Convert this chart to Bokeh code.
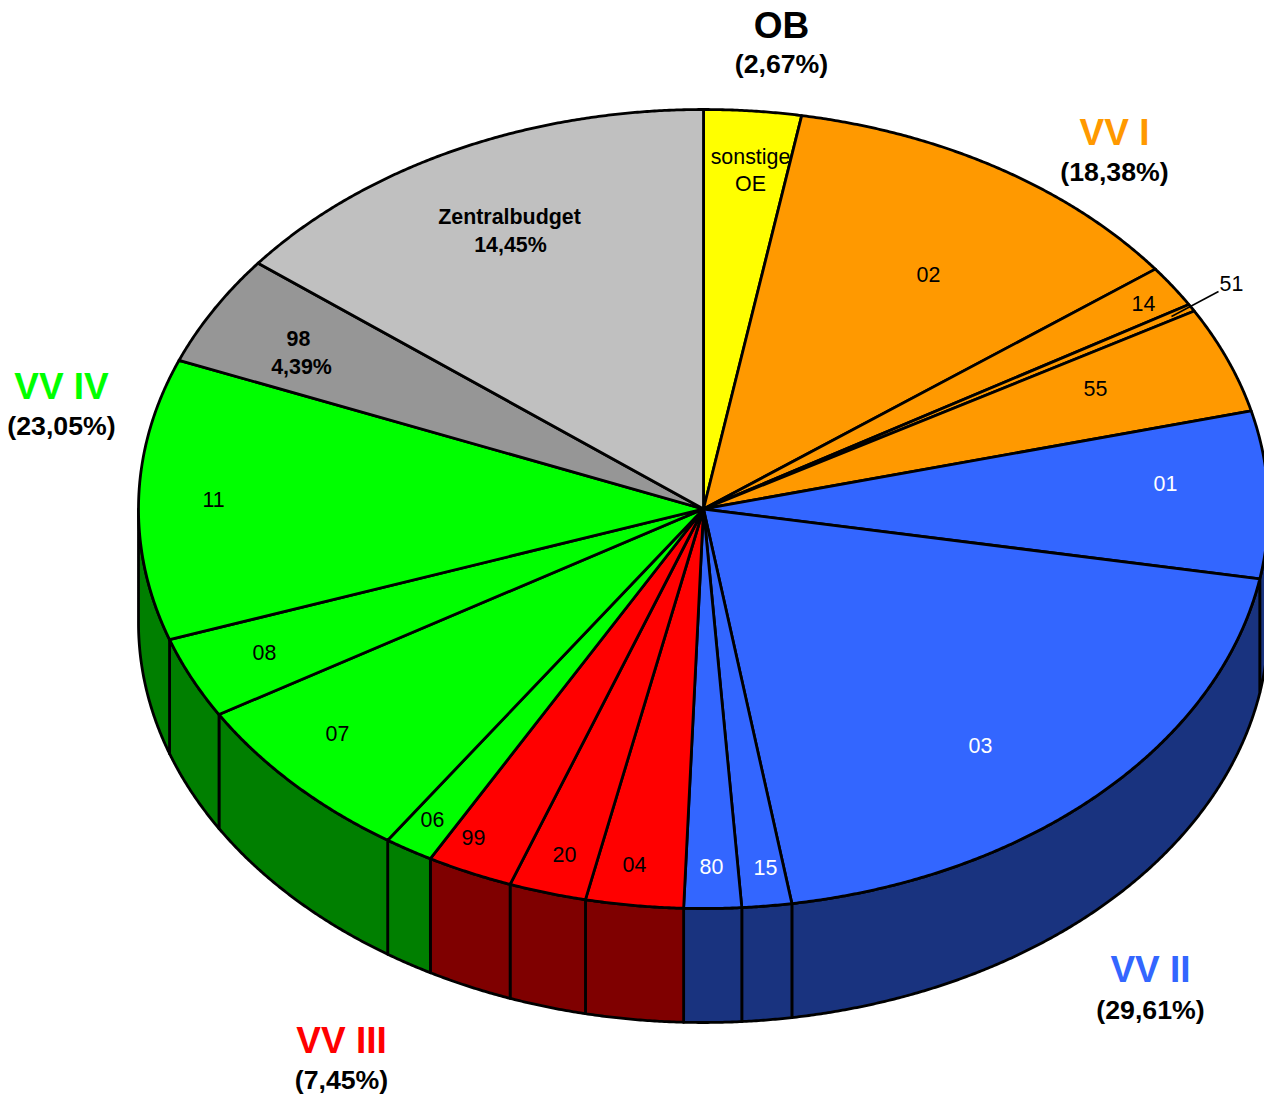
import numpy as np
from bokeh.plotting import figure
from bokeh.models import Range1d
from bokeh.core.properties import value
from bokeh.embed import file_html
from bokeh.resources import INLINE

slice_names = ["sonstige OE", "02", "14", "51", "55", "01", "03", "15", "80",
               "04", "20", "99", "06", "07", "08", "11", "98", "Zentralbudget"]
slice_values = [2.78, 11.97, 1.70, 0.30, 4.30, 6.75, 19.70, 1.42, 1.64,
                2.79, 2.21, 2.47, 1.41, 6.96, 3.30, 11.37, 4.48, 14.45]
slice_groups = ["OB", "VV I", "VV I", "VV I", "VV I", "VV II", "VV II", "VV II", "VV II",
                "VV III", "VV III", "VV III", "VV IV", "VV IV", "VV IV", "VV IV", "98", "Z"]
top_colors = {"OB": "#FFFF00", "VV I": "#FF9900", "VV II": "#3366FF", "VV III": "#FF0000",
              "VV IV": "#00FF00", "98": "#969696", "Z": "#C0C0C0"}
wall_colors = {"VV II": "#19337F", "VV III": "#7F0000", "VV IV": "#007F00",
               "VV I": "#7F4C00", "OB": "#7F7F00", "98": "#4B4B4B", "Z": "#606060"}

# pie geometry in page pixels
CX, CY, RX, RY, DEPTH = 703.0, 508.5, 565.0, 399.5, 114.0

# text annotations: text, x, y, colour, bold
small_labels = [
    ("sonstige", 750, 156, "black", False), ("OE", 750, 183, "black", False),
    ("02", 928, 274, "black", False), ("14", 1143, 303, "black", False),
    ("51", 1231, 283, "black", False), ("55", 1095, 388, "black", False),
    ("01", 1165, 483, "white", False), ("03", 980, 745, "white", False),
    ("15", 765, 867, "white", False), ("80", 711, 866, "white", False),
    ("04", 634, 864, "black", False), ("20", 564, 854, "black", False),
    ("99", 473, 837, "black", False), ("06", 432, 819, "black", False),
    ("07", 337, 733, "black", False), ("08", 264, 652, "black", False),
    ("11", 213, 499, "black", False),
    ("98", 298, 338, "black", True), ("4,39%", 301, 366, "black", True),
    ("Zentralbudget", 509, 216, "black", True), ("14,45%", 510, 244, "black", True),
]
group_titles = [
    ("OB", "(2,67%)", 781, 24.5, 63, "black"),
    ("VV I", "(18,38%)", 1114, 131.5, 171, "#FF9900"),
    ("VV II", "(29,61%)", 1150, 968.5, 1009, "#3366FF"),
    ("VV III", "(7,45%)", 341, 1039.5, 1079, "#FF0000"),
    ("VV IV", "(23,05%)", 61, 385.5, 425, "#00FF00"),
]
leader_x = [1171, 1218]
leader_y = [316, 291]

p = figure(width=1264, height=1095, output_backend="svg", toolbar_location=None,
           x_range=Range1d(0, 1264), y_range=Range1d(1095, 0),
           x_axis_location=None, y_axis_location=None, min_border=0,
           background_fill_color="white", border_fill_color="white", outline_line_color=None)
p.grid.visible = False


def rim(t0, t1):
    n = max(2, int(abs(t1 - t0) * 4) + 2)
    t = np.radians(np.linspace(t0, t1, n))
    return CX + RX * np.sin(t), CY - RY * np.cos(t)


edges = np.concatenate([[0], np.cumsum(slice_values)]) * 3.6

wall_xs, wall_ys, wall_fill = [], [], []
top_xs, top_ys, top_fill = [], [], []
for i, g in enumerate(slice_groups):
    a, b = edges[i], edges[i + 1]
    x, y = rim(a, b)
    top_xs.append(np.concatenate([[CX], x]).tolist())
    top_ys.append(np.concatenate([[CY], y]).tolist())
    top_fill.append(top_colors[g])
    lo, hi = max(a, 90.0), min(b, 270.0)
    if lo < hi:
        wx, wy = rim(lo, hi)
        wall_xs.append(np.concatenate([wx, wx[::-1]]).tolist())
        wall_ys.append(np.concatenate([wy, wy[::-1] + DEPTH]).tolist())
        wall_fill.append(wall_colors[g])

p.patches(wall_xs, wall_ys, fill_color=wall_fill, line_color="black", line_width=2.8,
          line_join="round")
p.patches(top_xs, top_ys, fill_color=top_fill, line_color="black", line_width=2.8,
          line_join="round")
p.line(leader_x, leader_y, line_color="black", line_width=1.5)

for txt, x, y, col, bold in small_labels:
    p.text([x], [y], text=[txt], text_color=col, text_font=value("Liberation Sans"),
           text_font_size="21.4px", text_font_style="bold" if bold else "normal",
           text_align="center", text_baseline="middle")

for name, pct, x, y1, y2, col in group_titles:
    p.text([x], [y1], text=[name], text_color=col, text_font=value("Liberation Sans"),
           text_font_size="37px", text_font_style="bold",
           text_align="center", text_baseline="middle")
    p.text([x], [y2], text=[pct], text_color="black", text_font=value("Liberation Sans"),
           text_font_size="26.7px", text_font_style="bold",
           text_align="center", text_baseline="middle")

open("out.html", "w").write(file_html(p, INLINE))
